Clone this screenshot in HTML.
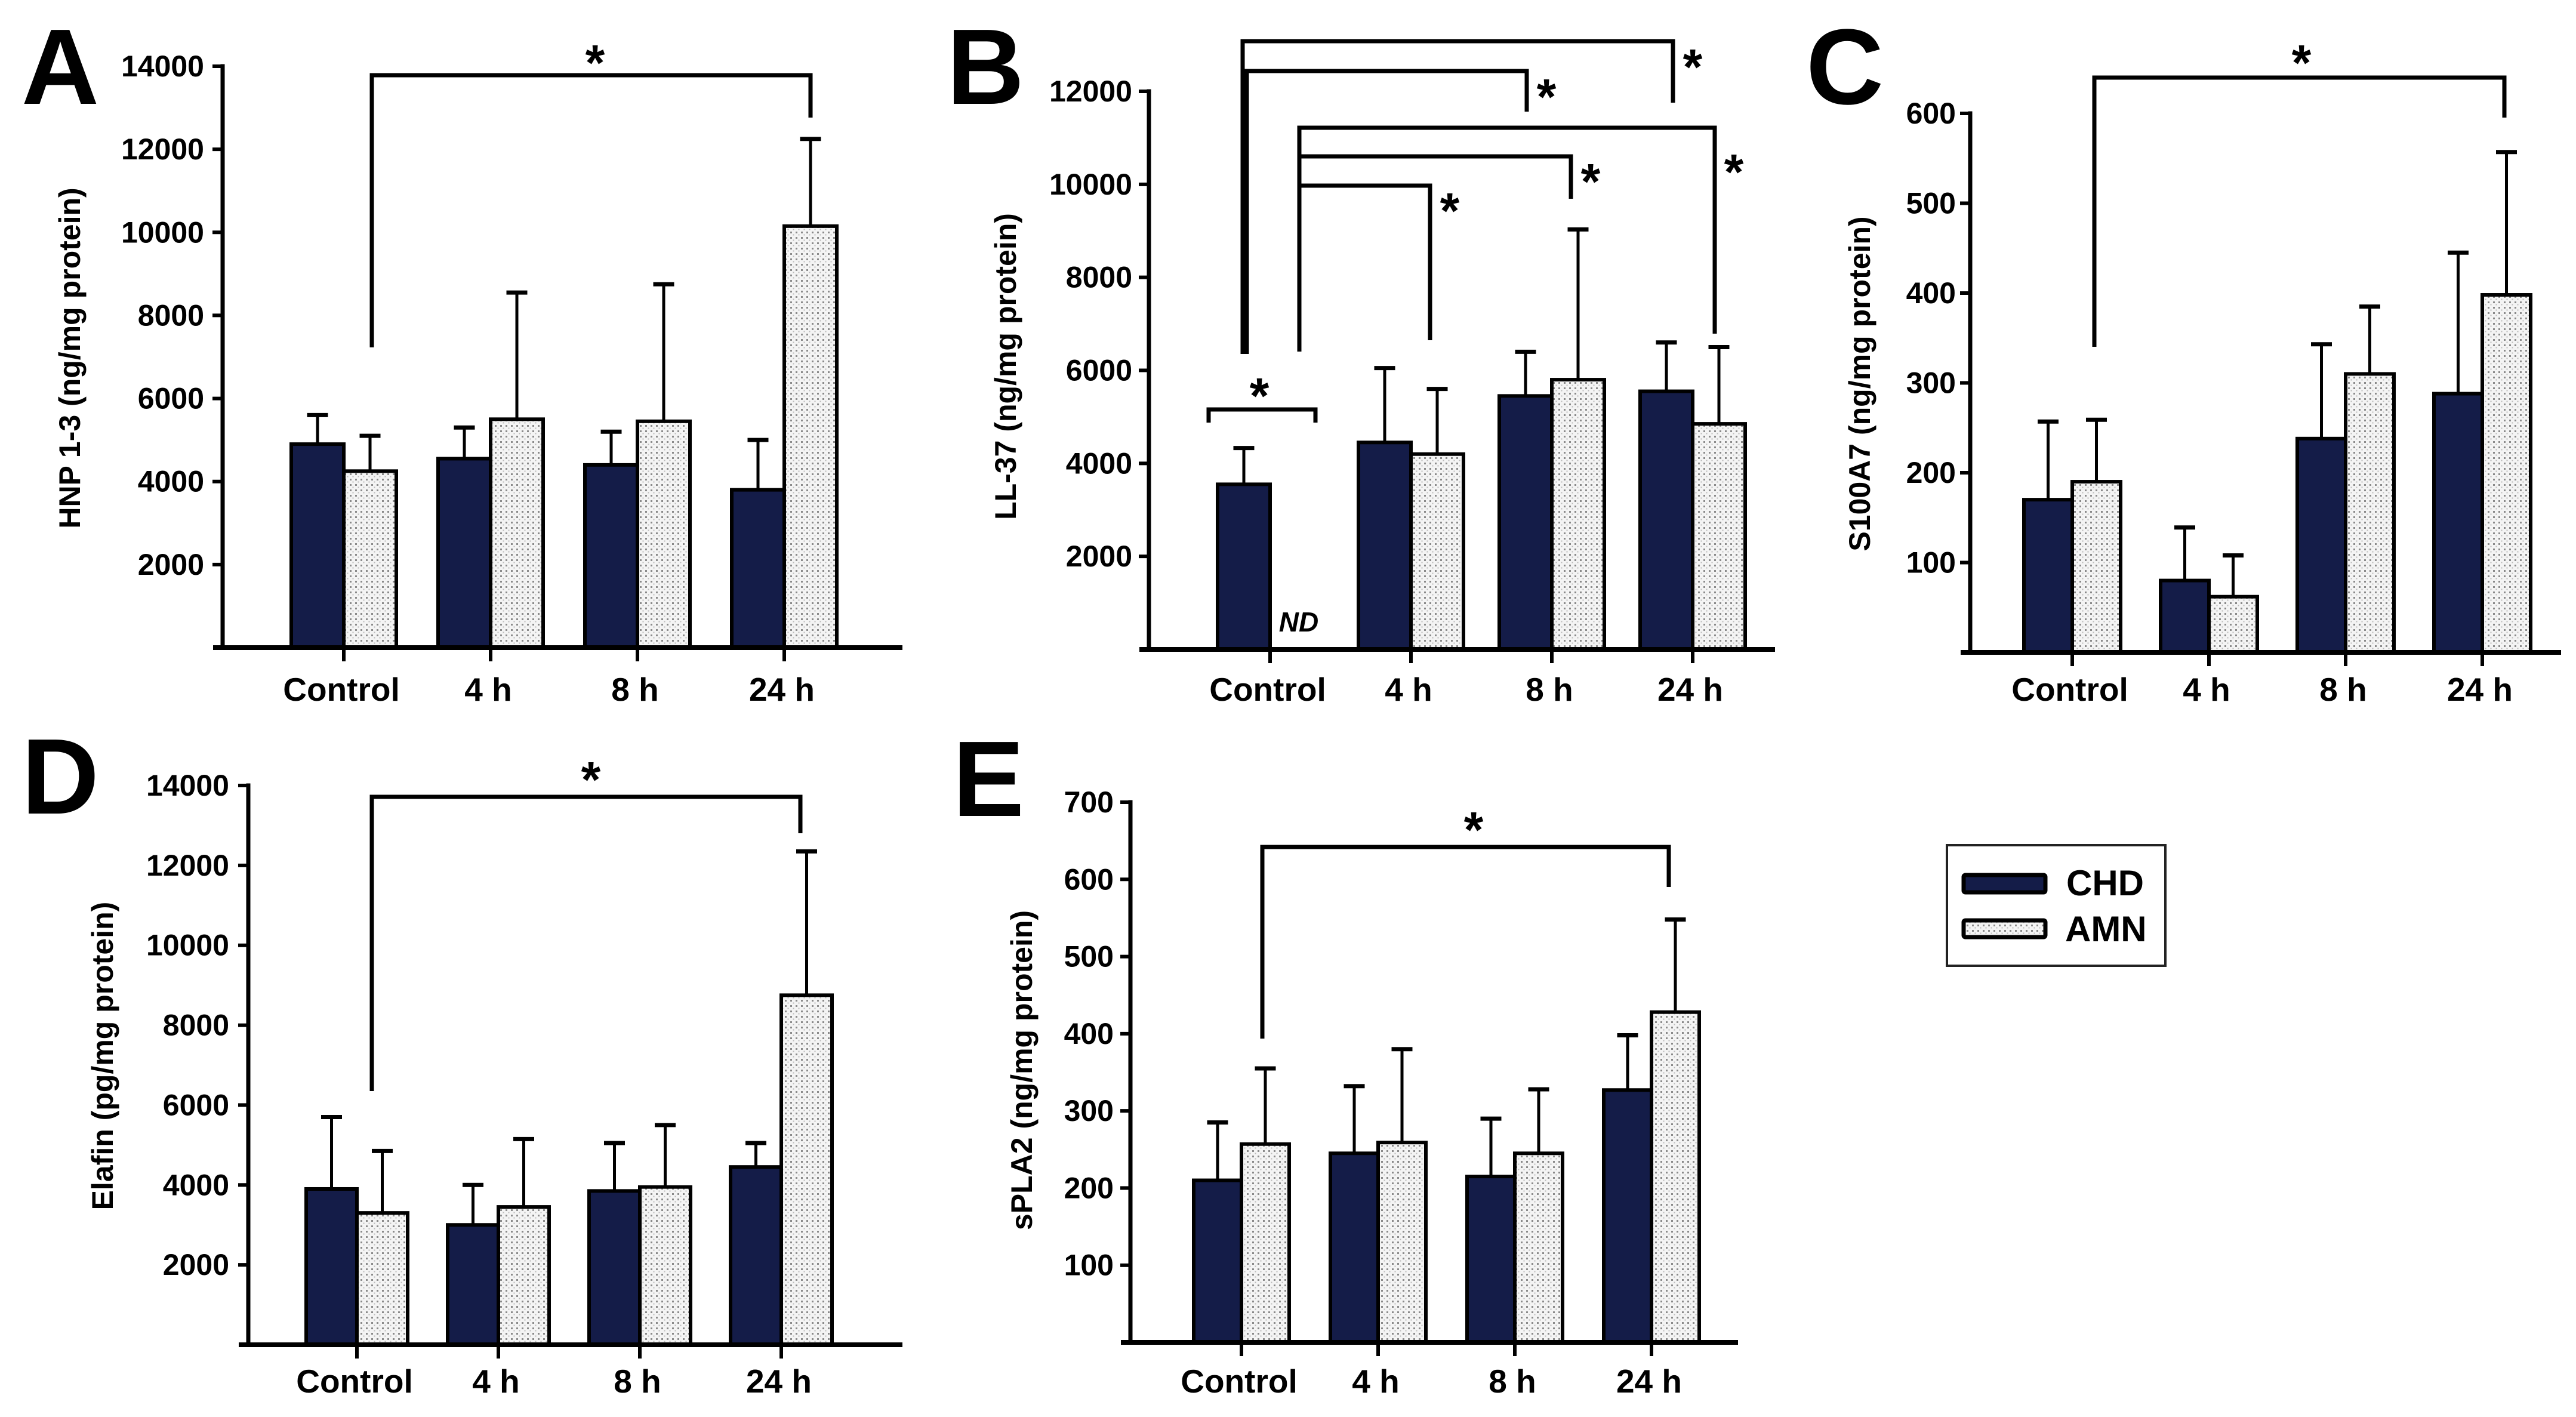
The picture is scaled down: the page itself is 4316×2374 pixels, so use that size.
<!DOCTYPE html>
<html><head><meta charset="utf-8"><style>
html,body{margin:0;padding:0;background:#fff;}
svg{display:block;}
text{font-family:"Liberation Sans",Arial,sans-serif;font-weight:bold;fill:#000;}
</style></head><body>
<svg id="fig" width="4316" height="2374" viewBox="0 0 4316 2374" xmlns="http://www.w3.org/2000/svg">
<defs>
<pattern id="dots" width="9" height="9" patternUnits="userSpaceOnUse">
<rect width="9" height="9" fill="#f4f4f4"/>
<rect x="1" y="1" width="3" height="3" fill="#8a8a8a"/>
<rect x="5.5" y="5.5" width="2" height="2" fill="#b8b8b8"/>
</pattern>
</defs>
<g id="root"></g>
</svg>
<script>
const categories = ["Control", "4 h", "8 h", "24 h"];
// Panel A: HNP 1-3
const aCHD = [4900, 4550, 4400, 3800];
const aCHDErr = [5600, 5300, 5200, 5000];
const aAMN = [4250, 5500, 5450, 10150];
const aAMNErr = [5100, 8550, 8750, 12250];
const aTicks = [2000, 4000, 6000, 8000, 10000, 12000, 14000];
// Panel B: LL-37
const bCHD = [3550, 4450, 5450, 5550];
const bCHDErr = [4330, 6050, 6400, 6600];
const bAMN = [0, 4200, 5800, 4850];
const bAMNErr = [0, 5600, 9030, 6500];
const bTicks = [2000, 4000, 6000, 8000, 10000, 12000];
// Panel C: S100A7
const cCHD = [170, 80, 238, 288];
const cCHDErr = [257, 139, 343, 445];
const cAMN = [190, 62, 310, 398];
const cAMNErr = [259, 108, 385, 557];
const cTicks = [100, 200, 300, 400, 500, 600];
// Panel D: Elafin
const dCHD = [3900, 3000, 3850, 4450];
const dCHDErr = [5700, 4000, 5050, 5050];
const dAMN = [3300, 3450, 3950, 8750];
const dAMNErr = [4850, 5150, 5500, 12350];
const dTicks = [2000, 4000, 6000, 8000, 10000, 12000, 14000];
// Panel E: sPLA2
const eCHD = [210, 245, 215, 327];
const eCHDErr = [285, 332, 290, 398];
const eAMN = [257, 259, 245, 428];
const eAMNErr = [355, 380, 328, 548];
const eTicks = [100, 200, 300, 400, 500, 600, 700];

const NS = "http://www.w3.org/2000/svg";
const root = document.getElementById("root");
function el(tag, attrs, parent){
  const e = document.createElementNS(NS, tag);
  for (const k in attrs) e.setAttribute(k, attrs[k]);
  (parent||root).appendChild(e);
  return e;
}
function line(x1,y1,x2,y2,w,p){return el("line",{x1:x1,y1:y1,x2:x2,y2:y2,stroke:"#000","stroke-width":w,"stroke-linecap":"square"},p);}

function panel(cfg){
  const g = el("g",{});
  
  
  const y = v => cfg.y0 - (v / cfg.vmax) * (cfg.y0 - cfg.yTop);
  const xc = i => cfg.x0tick + i * cfg.step;
  const L = el("text",{x:cfg.letterX,y:cfg.letterY,"font-size":180},g);
  L.textContent = cfg.letter;
  
  
  for (let i=0;i<categories.length;i++){
    const c = xc(i), w = cfg.bw;
    [[cfg.chd, cfg.chdE, c - w, "#141c48", "chd"], [cfg.amn, cfg.amnE, c, "url(#dots)", "amn"]].forEach(s=>{
      const v = s[0][i], e = s[1][i];
      if (v <= 0) return;
      const left = s[2];
      if (e > v){
        const ex = left + w/2;
        const l1 = line(ex, y(v), ex, y(e), 5, g);
        
        
        line(ex-14, y(e), ex+14, y(e), 7, g);
      }
      const r = el("rect",{x:left, y:y(v), width:w, height:cfg.y0 - y(v), fill:s[3], stroke:"#000","stroke-width":6},g);
      
      
    });
  }
  const ya = line(cfg.axX, cfg.yTop, cfg.axX, cfg.y0, 7, g);
  
  
  const xa = line(cfg.axX - 12, cfg.y0, cfg.axEnd, cfg.y0, 8, g);
  
  
  cfg.ticks.forEach(t=>{
    line(cfg.axX - 14, y(t), cfg.axX, y(t), 6, g);
    const tx = el("text",{x:cfg.tickLabX, y:y(t)+17, "font-size":50, "text-anchor":"end"},g);
    tx.textContent = t;
    
    
  });
  categories.forEach((c,i)=>{
    line(xc(i), cfg.y0, xc(i), cfg.y0 + 20, 6, g);
    const tx = el("text",{x:xc(i) - 4, y:cfg.catY + 19, "font-size":55, "text-anchor":"middle"},g);
    tx.textContent = c;
    
    
  });
  const ti = el("text",{x:0,y:0,"font-size":50,"text-anchor":"middle",transform:"translate("+(cfg.titleX+18)+","+cfg.titleY+") rotate(-90)"},g);
  ti.textContent = cfg.title;
  
  
  return g;
}
function bracket(x1,x2,yb,yl,yr,sx,sy,g){
  const p = el("polyline",{points:x1+","+yl+" "+x1+","+yb+" "+x2+","+yb+" "+x2+","+yr,fill:"none",stroke:"#000","stroke-width":7},g);
  
  
  const s = el("text",{x:sx,y:sy+42,"font-size":84,"text-anchor":"middle"},g);
  s.textContent = "*";
  
  
}

const gA = panel({id:"a",letter:"A",letterX:36,letterY:174,chd:aCHD,chdE:aCHDErr,amn:aAMN,amnE:aAMNErr,ticks:aTicks,vmax:14000,
  y0:1085,yTop:111,axX:373,axEnd:1508,x0tick:576,step:246,bw:88,tickLabX:342,catY:1155,title:"HNP 1-3 (ng/mg protein)",titleX:116,titleY:600});
bracket(623,1358,126,582,197,997,92,gA);

const gB = panel({id:"b",letter:"B",letterX:1586,letterY:174,chd:bCHD,chdE:bCHDErr,amn:bAMN,amnE:bAMNErr,ticks:bTicks,vmax:12000,
  y0:1088,yTop:153,axX:1925,axEnd:2970,x0tick:2128,step:236,bw:88,tickLabX:1897,catY:1155,title:"LL-37 (ng/mg protein)",titleX:1684,titleY:614});
bracket(2082,2803,69,593,172,2836,99,gB);
bracket(2089,2558,119,593,187,2591,149,gB);
bracket(2177,2873,214,589,559,2905,275,gB);
bracket(2177,2632,262,589,333,2665,291,gB);
bracket(2177,2396,311,589,570,2429,340,gB);
bracket(2025,2204,686,708,708,2110,650,gB);
const nd = el("text",{x:2176,y:1058,"font-size":46,"text-anchor":"middle","font-style":"italic"},gB);
nd.textContent = "ND";



const gC = panel({id:"c",letter:"C",letterX:3026,letterY:174,chd:cCHD,chdE:cCHDErr,amn:cAMN,amnE:cAMNErr,ticks:cTicks,vmax:600,
  y0:1093,yTop:190,axX:3301,axEnd:4287,x0tick:3472,step:229,bw:81,tickLabX:3277,catY:1155,title:"S100A7 (ng/mg protein)",titleX:3115,titleY:643});
bracket(3509,4196,130,581,197,3856,92,gC);

const gD = panel({id:"d",letter:"D",letterX:36,letterY:1363,chd:dCHD,chdE:dCHDErr,amn:dAMN,amnE:dAMNErr,ticks:dTicks,vmax:14000,
  y0:2253,yTop:1316,axX:416,axEnd:1508,x0tick:598,step:237,bw:85,tickLabX:384,catY:2314,title:"Elafin (pg/mg protein)",titleX:171,titleY:1769});
bracket(623,1341,1335,1828,1396,990,1293,gD);

const gE = panel({id:"e",letter:"E",letterX:1596,letterY:1367,chd:eCHD,chdE:eCHDErr,amn:eAMN,amnE:eAMNErr,ticks:eTicks,vmax:700,
  y0:2249,yTop:1344,axX:1894,axEnd:2908,x0tick:2080,step:229,bw:80,tickLabX:1866,catY:2314,title:"sPLA2 (ng/mg protein)",titleX:1711,titleY:1793});
bracket(2115,2796,1419,1740,1486,2469,1377,gE);

const lg = el("g",{});


el("rect",{x:3262,y:1416,width:366,height:202,fill:"#fff",stroke:"#222","stroke-width":4},lg);
const s1 = el("rect",{x:3290,y:1466,width:137,height:29,fill:"#141c48",stroke:"#000","stroke-width":7,rx:3},lg);


const s2 = el("rect",{x:3290,y:1542,width:137,height:28,fill:"url(#dots)",stroke:"#000","stroke-width":7,rx:3},lg);


const t1 = el("text",{x:3462,y:1500,"font-size":60},lg);
t1.textContent = "CHD";


const t2 = el("text",{x:3460,y:1577,"font-size":60},lg);
t2.textContent = "AMN";


</script>
</body></html>
